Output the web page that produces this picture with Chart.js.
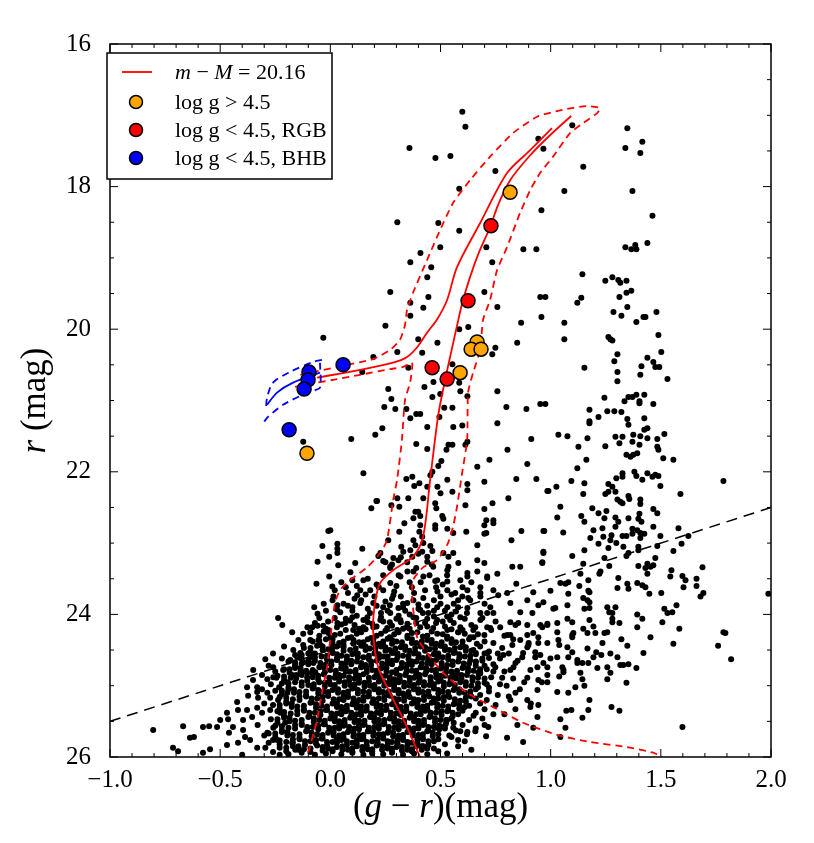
<!DOCTYPE html>
<html lang="en">
<head>
<meta charset="UTF-8">
<title>CMD</title>
<style>
  body { margin: 0; background: #fff; }
  #box { width: 814px; height: 843px; }
</style>
</head>
<body>
<div id="box"><canvas id="cmd" width="814" height="843"></canvas></div>
<script src="https://cdn.jsdelivr.net/npm/chart.js"></script>
<script>
// ---- spectroscopic targets (g-r, r) ----
const orangeGR = [0.816, 0.666, 0.639, 0.684, 0.589, -0.106];
const orangeR  = [18.08, 20.18, 20.28, 20.28, 20.61, 21.74];
const redGR = [0.729, 0.625, 0.462, 0.530];
const redR  = [18.55, 19.60, 20.54, 20.70];
const blueGR = [0.058, -0.097, -0.101, -0.119, -0.187];
const blueR  = [20.50, 20.60, 20.71, 20.84, 21.41];

// ---- isochrone m-M = 20.16 and its envelopes ----
const isoRGB = [[1.093,17.01],[0.997,17.28],[0.907,17.56],[0.816,17.91],[0.761,18.26],[0.725,18.57],[0.675,18.92],[0.634,19.27],[0.600,19.62],[0.575,19.95],[0.550,20.30],[0.521,20.71],[0.490,21.20],[0.453,22.11],[0.421,22.91],[0.375,23.19],[0.285,23.38],[0.226,23.56],[0.203,23.84],[0.194,24.22],[0.217,24.74],[0.271,25.10],[0.348,25.58],[0.407,26.00]];
const isoAGB = [[1.006,17.18],[0.907,17.49],[0.802,17.81],[0.680,18.51],[0.575,19.13],[0.530,19.59],[0.485,19.86],[0.439,20.05],[0.395,20.25],[0.348,20.39],[0.285,20.47],[0.135,20.57],[-0.060,20.68]];
const isoBHB = [[-0.047,20.61],[-0.169,20.75],[-0.242,20.89],[-0.287,21.06]];
const bhbUpper = [[-0.038,20.43],[-0.079,20.46],[-0.183,20.60],[-0.260,20.75],[-0.287,20.96],[-0.292,21.11]];
const bhbLower = [[-0.047,20.47],[-0.047,20.82],[-0.106,20.89],[-0.215,21.06],[-0.283,21.23],[-0.301,21.30]];
const isoUpper = [[-0.136,20.64],[-0.060,20.59],[0.044,20.52],[0.194,20.42],[0.271,20.29],[0.316,20.15],[0.339,19.94],[0.348,19.73],[0.375,19.49],[0.439,19.03],[0.498,18.61],[0.557,18.23],[0.634,17.91],[0.725,17.58],[0.829,17.25],[0.938,17.02],[1.043,16.93],[1.165,16.87],[1.224,16.90],[1.211,16.97],[1.147,17.11],[1.088,17.25],[1.011,17.58],[0.952,17.81],[0.907,18.05],[0.861,18.37],[0.802,18.85],[0.757,19.17],[0.725,19.59],[0.693,19.87],[0.680,20.29],[0.648,20.61],[0.625,20.89],[0.621,21.55],[0.598,22.02],[0.575,22.49],[0.557,22.77],[0.534,23.00],[0.484,23.24],[0.421,23.34],[0.375,23.52],[0.371,23.76],[0.394,24.32],[0.439,24.54],[0.512,24.82],[0.621,25.10],[0.739,25.30],[0.875,25.52],[1.029,25.69],[1.179,25.79],[1.347,25.86],[1.465,25.94],[1.510,26.01]];
const isoLower = [[-0.160,20.81],[-0.060,20.75],[0.012,20.71],[0.135,20.64],[0.271,20.56],[0.330,20.53],[0.371,20.47],[0.362,20.75],[0.339,20.99],[0.325,21.55],[0.303,22.11],[0.285,22.40],[0.257,22.96],[0.226,23.14],[0.167,23.34],[0.089,23.52],[0.044,23.66],[0.021,23.84],[-0.001,24.36],[-0.015,24.74],[-0.038,25.10],[-0.060,25.48],[-0.106,26.00]];
const cutLine = [[-1.0,25.5],[2.0,22.5]];

// ---- photometric field stars ----
const fieldBright = [[0.599,16.95],[0.613,17.16],[0.359,17.46],[0.477,17.60],[0.545,17.57],[0.749,17.78],[0.944,17.33],[0.585,18.03],[0.304,18.50],[0.490,18.51],[0.585,18.62],[0.499,18.85],[0.409,18.93],[0.458,19.13],[0.363,19.06],[0.440,19.27],[0.708,18.85],[0.735,19.06],[0.876,18.88],[0.935,18.88],[0.272,19.48],[0.363,19.63],[0.445,19.55],[0.422,19.70],[0.699,19.48],[0.758,19.69],[0.363,19.81],[0.250,19.95],[0.585,20.00],[0.626,19.97],[0.866,19.91],[0.848,20.19],[0.749,20.26],[0.735,20.35],[0.399,20.14],[0.486,20.19],[0.417,20.33],[0.304,20.32],[0.195,20.39],[-0.032,20.12],[0.145,20.60],[0.354,20.54],[0.554,20.49],[0.468,20.74],[0.427,20.81],[0.499,20.91],[0.585,20.75],[0.590,20.87],[0.622,20.94],[0.463,20.95],[0.263,20.84],[0.277,20.98],[0.245,21.09],[0.295,21.12],[0.345,21.12],[0.363,21.25],[0.390,21.19],[0.408,21.19],[0.517,21.10],[0.554,21.10],[0.495,21.23],[0.558,21.37],[0.599,21.35],[0.440,21.37],[0.236,21.39],[-0.123,21.58],[0.758,21.32],[0.799,21.09],[0.758,20.87],[0.890,21.12]];
const fieldRGB = [[0.095,21.54],[0.204,21.48],[0.150,22.02],[0.390,21.61],[0.440,21.68],[0.527,21.69],[0.536,21.62],[0.554,21.62],[0.622,21.58],[0.613,21.62],[0.504,21.85],[0.490,21.92],[0.463,22.00],[0.454,22.05],[0.345,22.10],[0.372,22.07],[0.404,22.16],[0.381,22.20],[0.440,22.21],[0.486,22.21],[0.500,22.30],[0.531,22.11],[0.554,22.28],[0.667,21.93],[0.722,21.83],[0.699,22.14],[0.622,22.17],[0.622,22.26],[0.804,21.69],[0.912,21.54],[0.894,21.89],[0.844,22.10],[0.935,22.10],[0.985,22.27],[0.808,22.37],[0.736,22.44],[0.699,22.52],[0.740,22.68],[0.699,22.75],[0.613,22.47],[0.617,22.84],[0.699,22.87],[0.867,22.83],[0.822,22.96],[0.967,22.83],[0.967,23.12],[0.962,23.27],[0.862,23.33],[0.699,23.28],[0.536,23.33],[0.558,22.86],[0.531,22.80],[0.513,22.66],[0.508,22.62],[0.476,22.75],[0.476,22.80],[0.422,22.37],[0.481,22.51],[0.399,22.56],[0.386,22.56],[0.377,22.65],[0.408,22.62],[0.336,22.72],[0.408,22.75],[0.404,22.84],[0.313,22.84],[0.377,22.96],[0.417,22.91],[0.422,23.00],[0.386,23.03],[0.363,23.10],[0.454,23.04],[0.463,23.11],[0.440,23.19],[0.399,23.15],[0.372,23.19],[0.349,23.27],[0.322,23.05],[0.286,23.21],[0.272,23.33],[0.263,22.96],[0.304,22.37],[0.313,22.49],[0.354,22.37],[0.277,22.47],[0.209,22.41],[0.186,22.51],[0.145,23.08],[0.032,23.01],[0.032,23.08],[0.036,23.31],[0.113,23.28],[0.218,23.18],[0.250,23.27],[0.000,22.82],[0.536,23.19],[-0.009,22.83],[-0.036,23.04],[-0.058,23.26],[-0.063,23.57],[-0.005,23.19],[-0.005,23.47],[0.212,22.41],[0.476,22.44],[0.708,22.68],[0.708,22.86],[0.667,23.03],[0.032,23.14],[0.091,23.41],[0.227,23.14],[0.272,23.35],[0.331,23.12],[0.309,23.24],[0.417,23.12],[0.440,23.26],[0.467,23.33],[0.485,23.52],[0.422,23.47],[0.377,23.40],[0.318,23.47],[0.590,23.52],[0.622,23.47],[0.667,23.40],[0.712,23.49],[0.740,22.72],[0.581,23.28],[0.558,23.14],[0.513,23.14],[0.531,23.38],[0.667,23.24]];
const fieldSub = [[0.486,23.68],[0.531,23.66],[0.681,23.62],[0.622,23.66],[0.681,23.75],[0.740,23.66],[0.626,23.77],[0.531,23.90],[0.485,23.90],[0.622,23.91],[0.712,23.98],[0.681,24.08],[0.590,24.04],[0.544,24.08],[0.485,24.08],[0.150,23.52],[0.100,23.52],[0.136,23.66],[0.181,23.66],[0.122,23.73],[0.014,23.75],[0.032,23.87],[0.045,23.97],[0.009,23.61],[-0.073,23.90],[-0.058,23.99],[-0.032,24.16],[-0.009,24.26],[0.032,24.12],[0.068,24.12],[0.100,23.90],[0.100,24.04],[0.136,23.84],[0.195,23.84],[0.240,23.66],[0.272,23.56],[0.286,23.73],[0.240,23.90],[0.272,23.98],[0.309,23.91],[0.349,23.84],[0.377,23.80],[0.422,23.77],[0.408,23.94],[0.445,23.98],[0.377,24.04],[0.318,24.08],[0.227,24.08],[0.168,24.04],[0.150,24.18],[0.104,24.22],[0.195,24.18],[0.258,24.19],[0.304,24.22],[0.349,24.18],[0.408,24.18],[0.467,24.19],[0.531,24.22],[0.590,24.18],[0.649,24.22],[0.712,24.18],[0.740,23.98],
  [0.622,23.42],[0.712,23.47],[0.758,23.43],[0.826,23.33],[1.226,23.40],[0.844,23.57],[1.171,23.67],[0.476,23.53],[0.531,23.54],[0.567,23.70],[0.599,23.75],[0.635,23.80],[0.681,23.70],[0.762,23.73],[0.803,23.70],[0.817,23.84],[0.894,23.80],[0.921,23.69],[0.944,23.87],[1.012,23.92],[1.076,23.87],[1.194,24.17],[1.257,24.25],[1.280,23.98],[1.257,23.90],[1.148,23.77],[0.862,23.97],[0.917,23.98],[0.726,23.90],[0.681,23.98],[0.817,24.11],[0.853,24.12],[0.771,24.18],[0.726,24.19],[0.658,24.18],[0.581,24.25],[0.635,24.32],[0.699,24.29],[0.803,24.29],[0.894,24.29],[0.944,24.32],[0.962,24.18],[1.030,24.25],[1.098,24.29],[1.167,24.26],
  [0.05,23.55],[0.08,23.70],[0.12,23.60],[0.17,23.50],[0.20,23.75],[0.24,23.45],[0.26,23.95],[0.30,23.60],[0.33,23.85],[0.35,23.40],[0.38,23.70],[0.41,23.55],[0.44,23.88],[0.46,23.30],[0.50,23.75],[0.53,23.45],[0.56,23.85],[0.60,23.62],[0.64,23.55],[0.70,23.85],[0.10,23.95],[0.06,23.85],[0.14,23.80],[0.18,23.98],[0.22,23.62],[0.28,23.78],[0.31,23.45],[0.34,23.95],[0.42,23.98],[0.48,23.62],[0.52,23.95],[0.39,23.35],[0.36,23.55],[0.45,23.45],[0.28,23.30],[0.24,23.25],[0.32,23.20],[-0.02,23.95],[0.01,23.80],[-0.05,24.05]];
const fieldPlume = [[1.098,17.14],[1.348,17.18],[0.967,17.47],[1.339,17.46],[1.416,17.37],[1.407,17.53],[1.148,17.72],[1.062,18.06],[1.371,18.06],[0.958,18.33],[1.462,18.41],[1.339,18.85],[1.366,18.88],[1.384,18.82],[1.389,18.88],[1.439,18.79],[1.144,19.23],[1.248,19.32],[1.280,19.27],[1.307,19.31],[1.316,19.35],[1.344,19.32],[0.953,19.55],[0.976,19.55],[1.139,19.56],[1.121,19.63],[1.312,19.55],[1.344,19.49],[1.366,19.46],[1.348,19.69],[1.285,19.76],[1.321,19.81],[1.389,19.90],[1.421,19.83],[1.430,19.83],[1.480,19.76],[0.958,19.83],[1.062,19.91],[1.062,20.14],[1.262,20.11],[1.271,20.14],[1.280,20.16],[1.489,20.08],[1.502,20.32],[1.303,20.35],[1.289,20.45],[1.439,20.40],[1.466,20.46],[1.475,20.53],[1.493,20.53],[1.412,20.52],[1.407,20.64],[1.153,20.54],[1.303,20.60],[1.303,20.73],[1.530,20.70],[0.953,21.05],[0.976,21.05],[1.244,20.96],[1.335,21.01],[1.353,20.95],[1.371,20.95],[1.389,20.92],[1.403,21.01],[1.403,21.04],[1.425,20.92],[1.466,21.05],[1.176,21.13],[1.257,21.15],[1.289,21.15],[1.321,21.16],[1.217,21.23],[1.176,21.29],[1.176,21.32],[1.348,21.26],[1.353,21.34],[1.425,21.25],[1.425,21.41],[1.439,21.39],[1.035,21.48],[1.076,21.50],[1.167,21.53],[1.294,21.51],[1.326,21.51],[1.375,21.48],[1.407,21.50],[1.439,21.53],[1.484,21.54],[1.516,21.47],
  [1.248,21.64],[1.312,21.60],[1.371,21.58],[1.403,21.62],[1.484,21.65],[1.489,21.69],[1.126,21.65],[1.344,21.76],[1.362,21.79],[1.375,21.76],[1.393,21.74],[1.511,21.81],[1.557,21.83],[1.162,21.83],[1.121,21.95],[1.094,22.13],[1.153,22.16],[0.990,22.27],[1.026,22.21],[1.148,22.31],[1.298,22.09],[1.326,22.07],[1.326,22.02],[1.380,22.00],[1.389,22.06],[1.439,22.02],[1.462,22.07],[1.475,22.04],[1.489,22.06],[1.416,22.11],[1.498,22.20],[1.262,22.17],[1.280,22.21],[1.262,22.28],[1.248,22.31],[1.294,22.28],[1.353,22.34],[1.357,22.38],[1.303,22.39],[1.316,22.42],[1.326,22.44],[1.407,22.39],[1.407,22.45],[1.589,22.31],[1.784,22.13],[1.044,22.49],[1.189,22.51],[1.217,22.58],[1.253,22.55],[1.139,22.62],[1.030,22.64],[1.153,22.70],[1.244,22.65],[1.294,22.64],[1.307,22.70],[1.353,22.65],[1.403,22.59],[1.398,22.66],[1.412,22.70],[1.466,22.52],[1.484,22.58],[0.971,22.83],[1.057,22.85],[1.194,22.82],[1.235,22.79],[1.294,22.77],[1.371,22.80],[1.393,22.82],[1.180,22.93],[1.239,22.91],[1.276,22.89],[1.326,22.90],[1.344,22.90],[1.371,22.87],[1.407,22.86],[1.425,22.87],[1.466,22.77],[1.498,22.90],[1.271,22.96],[1.298,23.00],[1.407,22.93],[1.217,23.01],[1.262,23.07],[1.330,23.05],[1.353,23.14],[1.344,23.18],[1.398,23.05],[1.398,23.10],[1.484,23.04],[1.580,22.79],[1.625,22.90],[1.594,23.01],[1.557,23.11],[1.153,23.10],[1.098,23.18],[0.967,23.14],[0.962,23.28],[1.148,23.29],[1.244,23.21],[1.266,23.32],[1.398,23.32],[1.430,23.35],[1.439,23.29],[1.466,23.31],[1.475,23.21],[1.453,23.33],[1.135,23.43],[1.221,23.43],[1.307,23.49],[1.439,23.43],[1.548,23.38],[1.543,23.47],[1.689,23.34],[1.598,23.46],[1.612,23.52],[1.662,23.50],[1.662,23.60],[1.603,23.62],[1.693,23.70],[1.680,23.75],[1.988,23.71],[1.044,23.56],[1.067,23.57],[1.080,23.55],[1.130,23.60],[1.171,23.52],[1.176,23.69],[1.080,23.71],[0.999,23.67],[1.303,23.63],[1.348,23.57],[1.353,23.64],[1.393,23.56],[1.416,23.59],[1.430,23.62],[1.448,23.71],[1.502,23.70],[1.167,23.80],[1.176,23.83],[0.967,23.83],[1.021,23.91],[1.153,23.92],[1.176,23.91],[1.294,23.90],[1.266,23.97],[1.393,24.00],[1.516,23.92],[1.530,23.98],[1.552,23.97],[1.571,23.87],[1.507,24.11],[1.076,24.06],[1.098,24.11],[1.176,24.08],[0.985,24.13],[1.280,24.06],[1.280,24.11],[1.312,24.12],[1.416,24.06],[1.393,24.18]];
const fieldLeft = [[-0.237,24.05],[-0.218,24.15],[-0.173,24.25],[-0.123,24.27],[-0.104,24.18],[-0.082,24.18],[-0.058,24.16],[-0.091,24.25],[-0.054,24.36],[-0.045,24.43],[-0.009,24.22],[-0.295,24.63],[-0.350,24.78],[-0.286,24.91],[-0.259,24.88],[-0.245,24.89],[-0.136,24.54],[-0.095,24.54],[-0.182,24.64],[-0.159,24.71],[-0.091,24.60],[-0.123,24.67],[-0.077,24.68],[-0.127,24.81],[-0.104,24.82],[-0.068,24.81],[-0.232,25.02],[-0.195,25.10],[-0.273,25.17],[-0.237,25.20],[-0.273,25.34],[-0.227,25.38],[-0.310,25.38],[-0.355,25.44],[-0.332,25.31],[-0.328,25.17],[-0.373,25.14],[-0.378,25.02],[-0.332,25.09],[-0.423,25.23],[-0.419,25.34],[-0.469,25.38],[-0.464,25.47],[-0.514,25.58],[-0.550,25.57],[-0.578,25.58],[-0.668,25.57],[-0.804,25.62],[-0.637,25.73],[-0.619,25.72],[-0.714,25.87],[-0.691,25.92],[-0.578,25.94],[-0.546,25.89],[-0.469,25.83],[-0.460,25.66],[-0.419,25.80],[-0.396,25.62],[-0.387,25.72],[-0.364,25.76],[-0.332,25.87],[-0.295,25.87],[-0.286,25.66],[-0.259,25.59],[-0.241,25.76],[-0.205,25.52],[-0.195,25.66],[-0.173,25.80],[-0.159,25.90],[-0.400,25.97],[-0.442,25.58],[-0.500,25.48],[-0.396,25.48],[-0.378,25.34],[-0.332,25.02],[-0.351,24.92],[-0.259,24.74],[-0.286,25.10],[-0.214,24.78],[-0.195,24.95],[-0.173,24.85],[-0.150,24.60],[-0.168,24.50],[-0.123,24.43],[-0.091,24.36],[-0.145,24.36],
  [-0.21,24.45],[-0.26,24.55],[-0.22,24.62],[-0.28,24.72],[-0.25,24.80],[-0.31,24.85],[-0.27,24.98],[-0.31,25.05],[-0.30,25.25],[-0.33,25.55],[-0.30,25.70],[-0.28,25.80],[-0.26,25.93],[-0.23,25.97]];
const fieldRight = [[0.826,24.43],[0.899,24.43],[0.985,24.40],[1.076,24.46],[1.167,24.48],[1.235,24.40],[1.303,24.60],[1.194,24.60],[1.121,24.64],[1.030,24.60],[0.953,24.57],[0.871,24.60],[0.785,24.57],[0.712,24.54],[0.649,24.50],[0.749,24.74],[0.831,24.74],[0.908,24.78],[0.985,24.74],[1.058,24.78],[1.135,24.82],[1.212,24.75],[1.271,24.82],[0.672,24.82],[0.604,24.74],[0.554,24.85],
  [1.584,24.20],[1.453,24.32],[1.557,24.41],[1.421,24.54],[1.784,24.25],[1.793,24.26],[1.760,24.44],[1.819,24.63],[1.598,25.58],[1.389,24.75],[1.353,24.70],[1.330,24.71],[1.316,24.71],[1.348,24.44],[1.321,24.35],[1.257,24.91],[1.344,24.96],[1.276,25.30],[1.312,25.35],[1.176,25.20],[1.171,25.34],[1.144,25.45],[1.044,25.47],[1.067,25.59],[1.044,25.72],[0.875,25.79],[0.802,25.73],[0.707,25.71],[0.422,25.85],[1.230,24.57],[1.207,24.53],[1.271,24.55],[1.257,24.74],[1.171,24.68],[1.144,24.68],[1.121,24.68],[1.080,24.60],[1.098,24.53],[1.103,24.26],[1.098,24.32],[1.148,24.20],[1.203,24.26],[1.244,24.26],[1.030,24.12],[0.985,24.15],[1.035,24.36],[1.039,24.43],[1.053,24.74],[1.058,24.81],[1.039,24.87],[1.144,24.91],[1.153,25.00],[1.112,25.02],[1.080,25.10],[1.071,25.35],[1.094,25.34],[1.030,25.09],[0.985,24.95],[0.985,24.85],[0.944,24.92],[0.940,24.74],[0.967,24.68],[0.999,24.62],[0.930,24.53],[0.894,24.46],[0.875,24.54],[0.944,24.40],[0.921,24.26],[0.953,24.15],[0.862,24.36],[0.817,24.29],[0.840,24.15],[0.894,24.15],[0.840,24.68],[0.817,24.78],[0.780,24.89],[0.894,24.89],[0.940,25.06],[0.894,25.20],[0.840,25.10],[0.817,25.20],[0.908,25.30],[0.940,25.44],[0.944,25.27],[0.849,25.55],[0.921,25.59],[0.717,25.58],[0.658,25.64],[0.622,25.65],[0.558,25.59],[0.476,25.59],[0.530,25.48],
  [0.74,24.40],[0.78,24.47],[0.72,24.52],[0.77,24.62],[0.74,24.70],[0.79,24.80],[0.73,24.88],[0.77,24.98],[0.72,25.03],[0.76,25.13],[0.71,25.20],[0.75,25.27],[0.70,25.33],[0.74,25.40],[0.69,25.46],[0.66,25.38],[0.63,25.48],[0.60,25.55],[0.57,25.63],[0.54,25.70],[0.52,25.82],[0.49,25.92],[0.58,25.76],[0.62,25.68],[0.66,25.60],[0.70,25.55],[0.63,25.28],[0.68,25.13],[0.71,24.98],[0.68,24.83],[0.70,24.72],[0.66,24.66],[0.81,24.55],[0.85,24.65],[0.83,24.90],[0.86,25.05],[0.81,25.15],[0.84,25.33],[0.79,25.40],[0.88,24.95],[0.80,25.00],[0.83,24.35],[0.79,24.30],[0.90,24.40],[0.93,24.60],[0.96,24.95],[0.91,25.25],[0.73,24.22],[0.67,24.28],[0.64,24.15],[0.69,24.05],[0.75,24.10],[0.62,23.98],[0.58,23.90],[0.55,24.00],[0.51,24.10],[0.47,24.03],[0.43,24.12],[0.39,24.05],[0.35,24.13],[0.31,24.02],[0.27,24.11],[0.23,24.04],[0.19,24.13],[0.15,24.08],[0.11,24.15],[0.07,24.06],[0.03,24.18],[-0.01,24.10],
  [0.52,25.60],[0.56,25.52],[0.59,25.64],[0.55,25.72],[0.58,25.85],[0.53,25.95],[0.49,25.75],[0.47,25.88],[0.61,25.78],[0.64,25.90],[0.44,25.96],[0.60,25.35],[0.65,25.42],[0.68,25.25],[0.66,25.18],[0.72,25.08],[0.70,24.90],[0.74,24.80],[0.76,24.55],[0.70,24.55]];
// upper edge of the dense blob, r ~ 23.6 - 24.35
const fieldTurnoff = [[0.02,23.66],[0.07,23.62],[0.11,23.78],[0.16,23.72],[0.21,23.58],[0.25,23.82],[0.29,23.68],[0.32,23.75],[0.37,23.62],[0.40,23.86],[0.43,23.66],[0.47,23.80],[0.51,23.58],[0.55,23.72],[0.58,23.80],
  [-0.03,23.85],[0.03,23.93],[0.08,23.88],[0.12,24.02],[0.17,23.92],[0.21,23.88],[0.23,23.98],[0.27,23.87],[0.30,24.06],[0.33,23.90],[0.36,24.00],[0.40,23.92],[0.44,24.06],[0.47,23.95],[0.50,23.85],[0.53,24.03],[0.57,23.96],[0.61,24.06],
  [-0.07,24.12],[-0.02,24.20],[0.02,24.05],[0.05,24.14],[0.09,24.09],[0.13,24.20],[0.17,24.11],[0.21,24.17],[0.24,24.10],[0.28,24.16],[0.32,24.11],[0.36,24.20],[0.39,24.12],[0.44,24.17],[0.48,24.12],[0.52,24.17],[0.56,24.12],[0.60,24.22],
  [-0.05,24.30],[0.00,24.33],[0.045,24.27],[0.095,24.32],[0.14,24.25],[0.185,24.33],[0.23,24.27],[0.27,24.32],[0.31,24.25],[0.35,24.30],[0.395,24.25],[0.44,24.30],[0.485,24.27],[0.53,24.31],[0.58,24.25],[0.65,24.32]];
const fieldCore = [
  [-0.03,24.24],[0.02,24.29],[0.07,24.22],[0.12,24.27],[0.16,24.21],[0.21,24.30],[0.25,24.23],[0.29,24.28],[0.33,24.20],[0.37,24.26],[0.42,24.31],[0.46,24.24],[0.51,24.28],[0.55,24.21],[0.61,24.27],
  [-0.08,24.38],[-0.02,24.35],[0.04,24.40],[0.08,24.33],[0.13,24.39],[0.17,24.35],[0.22,24.41],[0.26,24.34],[0.30,24.38],[0.35,24.33],[0.39,24.40],[0.44,24.36],[0.48,24.41],[0.53,24.34],[0.57,24.39],[0.63,24.35],[0.70,24.38],
  [-0.05,24.42],[0.01,24.40],[0.06,24.43],[0.105,24.41],[0.15,24.44],[0.195,24.40],[0.24,24.43],[0.28,24.41],[0.325,24.44],[0.37,24.40],[0.415,24.43],[0.46,24.41],[0.505,24.44],[0.55,24.40],[0.60,24.43],[0.665,24.41],
  [-0.12,24.47],[-0.06,24.44],[-0.01,24.49],[0.03,24.45],[0.09,24.50],[0.14,24.44],[0.18,24.48],[0.23,24.45],[0.27,24.50],[0.32,24.46],[0.36,24.51],[0.41,24.45],[0.45,24.49],[0.50,24.44],[0.54,24.50],[0.59,24.46],[0.64,24.51],[0.68,24.45],
  [-0.09,24.52],[-0.035,24.50],[0.01,24.53],[0.06,24.51],[0.115,24.54],[0.16,24.50],[0.205,24.53],[0.25,24.51],[0.295,24.54],[0.34,24.50],[0.385,24.53],[0.43,24.51],[0.475,24.54],[0.52,24.50],[0.565,24.53],[0.615,24.51],[0.66,24.54],
  [-0.16,24.57],[-0.10,24.55],[-0.04,24.59],[0.01,24.54],[0.05,24.58],[0.10,24.56],[0.15,24.60],[0.20,24.55],[0.24,24.59],[0.28,24.54],[0.33,24.58],[0.38,24.55],[0.42,24.61],[0.47,24.56],[0.51,24.60],[0.56,24.54],[0.61,24.59],[0.66,24.56],[0.72,24.61],
  [-0.13,24.62],[-0.07,24.60],[-0.015,24.63],[0.03,24.61],[0.075,24.64],[0.125,24.60],[0.175,24.63],[0.22,24.61],[0.26,24.64],[0.305,24.60],[0.355,24.63],[0.40,24.61],[0.445,24.64],[0.49,24.60],[0.535,24.63],[0.585,24.61],[0.635,24.64],[0.69,24.62],
  [-0.19,24.66],[-0.13,24.69],[-0.07,24.65],[-0.02,24.70],[0.03,24.64],[0.07,24.68],[0.12,24.66],[0.16,24.71],[0.21,24.65],[0.26,24.69],[0.30,24.64],[0.35,24.70],[0.39,24.66],[0.44,24.68],[0.48,24.64],[0.53,24.71],[0.58,24.66],[0.63,24.69],[0.69,24.65],
  [-0.16,24.72],[-0.10,24.70],[-0.045,24.73],[0.005,24.71],[0.05,24.74],[0.095,24.70],[0.14,24.73],[0.185,24.71],[0.235,24.74],[0.28,24.70],[0.325,24.73],[0.37,24.71],[0.415,24.74],[0.46,24.70],[0.505,24.73],[0.555,24.71],[0.605,24.74],[0.66,24.72],
  [-0.21,24.77],[-0.16,24.75],[-0.11,24.79],[-0.05,24.74],[0.00,24.78],[0.05,24.76],[0.09,24.80],[0.14,24.74],[0.19,24.78],[0.23,24.76],[0.28,24.81],[0.32,24.75],[0.37,24.79],[0.41,24.74],[0.46,24.78],[0.50,24.76],[0.55,24.80],[0.60,24.75],[0.65,24.79],[0.71,24.77],
  [-0.185,24.82],[-0.135,24.80],[-0.08,24.83],[-0.025,24.81],[0.025,24.84],[0.07,24.80],[0.115,24.83],[0.165,24.81],[0.21,24.84],[0.255,24.80],[0.30,24.83],[0.345,24.81],[0.39,24.84],[0.435,24.80],[0.48,24.83],[0.525,24.81],[0.575,24.84],[0.625,24.80],[0.68,24.82],
  [-0.24,24.86],[-0.18,24.89],[-0.13,24.85],[-0.08,24.88],[-0.03,24.84],[0.02,24.89],[0.06,24.86],[0.11,24.90],[0.15,24.84],[0.20,24.88],[0.25,24.86],[0.29,24.91],[0.34,24.85],[0.38,24.89],[0.43,24.84],[0.48,24.88],[0.52,24.86],[0.57,24.90],[0.62,24.85],[0.67,24.89],
  [-0.21,24.92],[-0.155,24.90],[-0.105,24.93],[-0.055,24.91],[-0.005,24.94],[0.04,24.90],[0.085,24.93],[0.13,24.91],[0.175,24.94],[0.225,24.90],[0.27,24.93],[0.315,24.91],[0.36,24.94],[0.405,24.90],[0.455,24.93],[0.50,24.91],[0.545,24.94],[0.595,24.90],[0.645,24.93],
  [-0.22,24.97],[-0.16,24.95],[-0.10,24.99],[-0.05,24.95],[0.00,24.98],[0.04,24.94],[0.09,24.99],[0.13,24.96],[0.18,25.00],[0.22,24.94],[0.27,24.98],[0.31,24.95],[0.36,25.00],[0.40,24.96],[0.45,24.99],[0.49,24.94],[0.54,24.98],[0.59,24.95],[0.64,25.00],[0.70,24.96],
  [-0.19,25.02],[-0.13,25.00],[-0.075,25.03],[-0.025,25.01],[0.02,25.04],[0.065,25.00],[0.11,25.03],[0.155,25.01],[0.20,25.04],[0.245,25.00],[0.29,25.03],[0.335,25.01],[0.38,25.04],[0.425,25.00],[0.47,25.03],[0.515,25.01],[0.565,25.04],[0.615,25.00],[0.67,25.02],
  [-0.25,25.07],[-0.19,25.05],[-0.14,25.09],[-0.08,25.04],[-0.03,25.08],[0.01,25.06],[0.06,25.10],[0.10,25.04],[0.15,25.08],[0.20,25.05],[0.24,25.09],[0.29,25.06],[0.33,25.11],[0.38,25.05],[0.42,25.09],[0.47,25.04],[0.51,25.08],[0.56,25.06],[0.61,25.10],[0.66,25.05],
  [-0.22,25.12],[-0.165,25.10],[-0.11,25.13],[-0.055,25.11],[-0.01,25.14],[0.035,25.10],[0.08,25.13],[0.125,25.11],[0.175,25.14],[0.22,25.10],[0.265,25.13],[0.31,25.11],[0.355,25.14],[0.40,25.10],[0.445,25.13],[0.49,25.11],[0.535,25.14],[0.585,25.10],[0.635,25.13],
  [-0.23,25.16],[-0.17,25.19],[-0.11,25.15],[-0.06,25.18],[-0.01,25.14],[0.04,25.19],[0.08,25.16],[0.13,25.20],[0.17,25.15],[0.22,25.18],[0.27,25.14],[0.31,25.19],[0.36,25.16],[0.40,25.20],[0.45,25.15],[0.49,25.18],[0.54,25.16],[0.59,25.21],[0.64,25.15],
  [-0.20,25.22],[-0.14,25.20],[-0.085,25.23],[-0.035,25.21],[0.015,25.24],[0.06,25.20],[0.105,25.23],[0.15,25.21],[0.195,25.24],[0.245,25.20],[0.29,25.23],[0.335,25.21],[0.38,25.24],[0.425,25.20],[0.47,25.23],[0.515,25.21],[0.565,25.24],[0.615,25.22],
  [-0.26,25.27],[-0.20,25.25],[-0.15,25.29],[-0.09,25.24],[-0.04,25.28],[0.01,25.25],[0.05,25.30],[0.10,25.26],[0.14,25.29],[0.19,25.24],[0.23,25.28],[0.28,25.26],[0.32,25.30],[0.37,25.25],[0.42,25.29],[0.46,25.24],[0.51,25.28],[0.56,25.26],[0.61,25.30],
  [-0.23,25.32],[-0.175,25.30],[-0.12,25.33],[-0.065,25.31],[-0.015,25.34],[0.03,25.30],[0.075,25.33],[0.12,25.31],[0.165,25.34],[0.21,25.30],[0.255,25.33],[0.30,25.31],[0.345,25.34],[0.395,25.30],[0.44,25.33],[0.485,25.31],[0.535,25.34],[0.585,25.32],
  [-0.24,25.36],[-0.18,25.39],[-0.12,25.35],[-0.07,25.38],[-0.02,25.34],[0.03,25.39],[0.07,25.36],[0.12,25.40],[0.16,25.35],[0.21,25.38],[0.25,25.34],[0.30,25.39],[0.34,25.36],[0.39,25.40],[0.43,25.35],[0.48,25.38],[0.53,25.36],[0.58,25.40],
  [-0.21,25.42],[-0.15,25.40],[-0.095,25.43],[-0.045,25.41],[0.005,25.44],[0.05,25.40],[0.095,25.43],[0.14,25.41],[0.185,25.44],[0.23,25.40],[0.275,25.43],[0.32,25.41],[0.365,25.44],[0.41,25.40],[0.455,25.43],[0.505,25.41],[0.555,25.43],
  [-0.27,25.47],[-0.21,25.45],[-0.16,25.49],[-0.10,25.44],[-0.05,25.48],[0.00,25.46],[0.04,25.50],[0.09,25.45],[0.13,25.49],[0.18,25.44],[0.22,25.48],[0.27,25.46],[0.31,25.50],[0.36,25.45],[0.40,25.49],[0.45,25.44],[0.50,25.48],[0.55,25.46],
  [-0.24,25.52],[-0.185,25.50],[-0.13,25.53],[-0.075,25.51],[-0.025,25.54],[0.02,25.50],[0.065,25.53],[0.11,25.51],[0.155,25.54],[0.20,25.50],[0.245,25.53],[0.29,25.51],[0.335,25.54],[0.38,25.50],[0.425,25.53],[0.475,25.51],[0.525,25.53],
  [-0.25,25.56],[-0.19,25.59],[-0.13,25.55],[-0.08,25.58],[-0.03,25.54],[0.02,25.59],[0.06,25.56],[0.11,25.60],[0.15,25.55],[0.20,25.58],[0.24,25.54],[0.29,25.59],[0.33,25.56],[0.38,25.60],[0.42,25.55],[0.47,25.58],[0.52,25.56],
  [-0.22,25.62],[-0.16,25.60],[-0.105,25.63],[-0.055,25.61],[-0.005,25.64],[0.04,25.60],[0.085,25.63],[0.13,25.61],[0.175,25.64],[0.22,25.60],[0.265,25.63],[0.31,25.61],[0.355,25.64],[0.40,25.60],[0.445,25.63],[0.495,25.61],
  [-0.28,25.67],[-0.22,25.65],[-0.17,25.69],[-0.11,25.64],[-0.06,25.68],[-0.01,25.66],[0.04,25.70],[0.08,25.65],[0.13,25.69],[0.17,25.64],[0.22,25.68],[0.26,25.66],[0.31,25.70],[0.35,25.65],[0.40,25.69],[0.44,25.64],[0.49,25.68],
  [-0.25,25.72],[-0.195,25.70],[-0.14,25.73],[-0.085,25.71],[-0.035,25.74],[0.015,25.70],[0.06,25.73],[0.105,25.71],[0.15,25.74],[0.195,25.70],[0.24,25.73],[0.285,25.71],[0.33,25.74],[0.375,25.70],[0.42,25.73],[0.465,25.71],
  [-0.26,25.76],[-0.20,25.79],[-0.14,25.75],[-0.09,25.78],[-0.04,25.74],[0.01,25.79],[0.05,25.76],[0.10,25.80],[0.14,25.75],[0.19,25.78],[0.24,25.74],[0.28,25.79],[0.33,25.76],[0.37,25.80],[0.42,25.75],[0.47,25.78],
  [-0.23,25.82],[-0.17,25.80],[-0.115,25.83],[-0.065,25.81],[-0.015,25.84],[0.03,25.80],[0.075,25.83],[0.12,25.81],[0.165,25.84],[0.215,25.80],[0.26,25.83],[0.305,25.81],[0.35,25.84],[0.395,25.80],[0.445,25.83],
  [-0.23,25.87],[-0.17,25.85],[-0.12,25.89],[-0.06,25.84],[-0.01,25.88],[0.03,25.86],[0.08,25.90],[0.12,25.85],[0.17,25.89],[0.21,25.84],[0.26,25.88],[0.30,25.86],[0.35,25.90],[0.39,25.85],[0.44,25.88],
  [-0.20,25.92],[-0.145,25.90],[-0.09,25.93],[-0.035,25.91],[0.01,25.92],[0.055,25.90],[0.10,25.93],[0.145,25.91],[0.19,25.92],[0.235,25.90],[0.28,25.93],[0.325,25.91],[0.37,25.92],[0.415,25.90],
  [-0.19,25.96],[-0.13,25.94],[-0.07,25.97],[-0.02,25.95],[0.05,25.96],[0.10,25.94],[0.15,25.97],[0.19,25.95],[0.24,25.96],[0.28,25.94],[0.33,25.97],[0.38,25.95]
];
// extra stars packed between the rows above, where the blob is solid black
const fieldCoreFill = [
  [-0.05,24.37],[0.01,24.35],[0.06,24.38],[0.105,24.36],[0.15,24.39],[0.195,24.35],[0.24,24.38],[0.28,24.36],[0.325,24.39],[0.37,24.35],[0.415,24.38],[0.46,24.36],[0.505,24.39],[0.55,24.35],[0.60,24.38],
  [-0.09,24.47],[-0.035,24.45],[0.01,24.46],[0.06,24.46],[0.115,24.48],[0.16,24.45],[0.205,24.47],[0.25,24.46],[0.295,24.48],[0.34,24.45],[0.385,24.47],[0.43,24.46],[0.475,24.48],[0.52,24.45],[0.565,24.47],[0.615,24.46],
  [-0.13,24.57],[-0.07,24.55],[-0.015,24.58],[0.03,24.56],[0.075,24.59],[0.125,24.55],[0.175,24.58],[0.22,24.56],[0.26,24.59],[0.305,24.55],[0.355,24.58],[0.40,24.56],[0.445,24.59],[0.49,24.55],[0.535,24.58],[0.585,24.56],[0.635,24.58],
  [-0.16,24.67],[-0.10,24.65],[-0.045,24.68],[0.005,24.66],[0.05,24.69],[0.095,24.65],[0.14,24.68],[0.185,24.66],[0.235,24.69],[0.28,24.65],[0.325,24.68],[0.37,24.66],[0.415,24.69],[0.46,24.65],[0.505,24.68],[0.555,24.66],[0.605,24.69],[0.66,24.67],
  [-0.185,24.77],[-0.135,24.75],[-0.08,24.78],[-0.025,24.76],[0.025,24.79],[0.07,24.75],[0.115,24.78],[0.165,24.76],[0.21,24.79],[0.255,24.75],[0.30,24.78],[0.345,24.76],[0.39,24.79],[0.435,24.75],[0.48,24.78],[0.525,24.76],[0.575,24.79],[0.625,24.75],[0.68,24.77],
  [-0.21,24.87],[-0.155,24.85],[-0.105,24.88],[-0.055,24.86],[-0.005,24.89],[0.04,24.85],[0.085,24.88],[0.13,24.86],[0.175,24.89],[0.225,24.85],[0.27,24.88],[0.315,24.86],[0.36,24.89],[0.405,24.85],[0.455,24.88],[0.50,24.86],[0.545,24.89],[0.595,24.85],[0.645,24.88],
  [-0.19,24.97],[-0.13,24.95],[-0.075,24.98],[-0.025,24.96],[0.02,24.99],[0.065,24.95],[0.11,24.98],[0.155,24.96],[0.20,24.99],[0.245,24.95],[0.29,24.98],[0.335,24.96],[0.38,24.99],[0.425,24.95],[0.47,24.98],[0.515,24.96],[0.565,24.99],[0.615,24.95],[0.67,24.97],
  [-0.22,25.07],[-0.165,25.05],[-0.11,25.08],[-0.055,25.06],[-0.01,25.09],[0.035,25.05],[0.08,25.08],[0.125,25.06],[0.175,25.09],[0.22,25.05],[0.265,25.08],[0.31,25.06],[0.355,25.09],[0.40,25.05],[0.445,25.08],[0.49,25.06],[0.535,25.09],[0.585,25.05],[0.635,25.08],
  [-0.20,25.17],[-0.14,25.15],[-0.085,25.18],[-0.035,25.16],[0.015,25.19],[0.06,25.15],[0.105,25.18],[0.15,25.16],[0.195,25.19],[0.245,25.15],[0.29,25.18],[0.335,25.16],[0.38,25.19],[0.425,25.15],[0.47,25.18],[0.515,25.16],[0.565,25.19],[0.615,25.17],
  [-0.23,25.27],[-0.175,25.25],[-0.12,25.28],[-0.065,25.26],[-0.015,25.29],[0.03,25.25],[0.075,25.28],[0.12,25.26],[0.165,25.29],[0.21,25.25],[0.255,25.28],[0.30,25.26],[0.345,25.29],[0.395,25.25],[0.44,25.28],[0.485,25.26],[0.535,25.29],[0.585,25.27],
  [-0.21,25.37],[-0.15,25.35],[-0.095,25.38],[-0.045,25.36],[0.005,25.39],[0.05,25.35],[0.095,25.38],[0.14,25.36],[0.185,25.39],[0.23,25.35],[0.275,25.38],[0.32,25.36],[0.365,25.39],[0.41,25.35],[0.455,25.38],[0.505,25.36],[0.555,25.38],
  [-0.24,25.47],[-0.185,25.45],[-0.13,25.48],[-0.075,25.46],[-0.025,25.49],[0.02,25.45],[0.065,25.48],[0.11,25.46],[0.155,25.49],[0.20,25.45],[0.245,25.48],[0.29,25.46],[0.335,25.49],[0.38,25.45],[0.425,25.48],[0.475,25.46],[0.525,25.48],
  [-0.22,25.57],[-0.16,25.55],[-0.105,25.58],[-0.055,25.56],[-0.005,25.59],[0.04,25.55],[0.085,25.58],[0.13,25.56],[0.175,25.59],[0.22,25.55],[0.265,25.58],[0.31,25.56],[0.355,25.59],[0.40,25.55],[0.445,25.58],[0.495,25.56],
  [-0.25,25.67],[-0.195,25.65],[-0.14,25.68],[-0.085,25.66],[-0.035,25.69],[0.015,25.65],[0.06,25.68],[0.105,25.66],[0.15,25.69],[0.195,25.65],[0.24,25.68],[0.285,25.66],[0.33,25.69],[0.375,25.65],[0.42,25.68],[0.465,25.66],
  [-0.23,25.77],[-0.17,25.75],[-0.115,25.78],[-0.065,25.76],[-0.015,25.79],[0.03,25.75],[0.075,25.78],[0.12,25.76],[0.165,25.79],[0.215,25.75],[0.26,25.78],[0.305,25.76],[0.35,25.79],[0.395,25.75],[0.445,25.78],
  [-0.20,25.87],[-0.145,25.85],[-0.09,25.88],[-0.035,25.86],[0.01,25.89],[0.055,25.85],[0.10,25.88],[0.145,25.86],[0.19,25.89],[0.235,25.85],[0.28,25.88],[0.325,25.86],[0.37,25.89],[0.415,25.85]
];

const xMajor = [-1.0, -0.5, 0.0, 0.5, 1.0, 1.5, 2.0];
const yMajor = [16, 18, 20, 22, 24, 26];

const SERIF = '"Liberation Serif", "DejaVu Serif", serif';
const toXY = arr => arr.map(p => ({ x: p[0], y: p[1] }));
const pairXY = (gx, ry) => gx.map((v, i) => ({ x: v, y: ry[i] }));

const allField = [].concat(fieldBright, fieldRGB, fieldSub, fieldPlume, fieldLeft, fieldRight, fieldTurnoff, fieldCore, fieldCoreFill);

function lineSet(pts, color, dash, width, order, tension) {
  return { data: toXY(pts), showLine: true, borderColor: color, borderWidth: width, borderDash: dash,
           pointRadius: 0, fill: false, tension: tension || 0, order: order };
}
function markerSet(gx, ry, color) {
  return { data: pairXY(gx, ry), backgroundColor: color, borderColor: '#000', borderWidth: 1.5,
           pointRadius: 7, pointHoverRadius: 7, order: 0 };
}

// draws a string made of upright / italic pieces
function richText(ctx, parts, x, y, size, align) {
  let w = 0;
  parts.forEach(p => { ctx.font = (p[1] ? 'italic ' : '') + size + 'px ' + SERIF; w += ctx.measureText(p[0]).width; });
  let cx = align === 'center' ? x - w / 2 : x;
  parts.forEach(p => {
    ctx.font = (p[1] ? 'italic ' : '') + size + 'px ' + SERIF;
    ctx.fillText(p[0], cx, y);
    cx += ctx.measureText(p[0]).width;
  });
}

const decor = {
  id: 'decor',
  afterDraw(chart) {
    const ctx = chart.ctx, a = chart.chartArea, sx = chart.scales.x, sy = chart.scales.y;
    ctx.save();
    ctx.strokeStyle = '#000';
    ctx.lineWidth = 1;
    // ticks pointing inward on all four sides
    ctx.beginPath();
    for (let i = -10; i <= 20; i++) {
      const px = sx.getPixelForValue(i / 10);
      const len = (i % 5 === 0) ? 8 : 4;
      ctx.moveTo(px, a.bottom); ctx.lineTo(px, a.bottom - len);
      ctx.moveTo(px, a.top); ctx.lineTo(px, a.top + len);
    }
    for (let j = 32; j <= 52; j++) {
      const py = sy.getPixelForValue(j / 2);
      const len = (j % 4 === 0) ? 8 : 4;
      ctx.moveTo(a.left, py); ctx.lineTo(a.left + len, py);
      ctx.moveTo(a.right, py); ctx.lineTo(a.right - len, py);
    }
    ctx.stroke();
    ctx.lineWidth = 1.5;
    ctx.strokeRect(a.left, a.top, a.right - a.left, a.bottom - a.top);

    // legend
    const lx = 107, ly = 53, lw = 225, lh = 126;
    ctx.fillStyle = '#fff';
    ctx.fillRect(lx, ly, lw, lh);
    ctx.strokeRect(lx, ly, lw, lh);
    ctx.fillStyle = '#000';
    ctx.textBaseline = 'middle';
    ctx.strokeStyle = '#f00';
    ctx.lineWidth = 1.8;
    ctx.beginPath(); ctx.moveTo(122, 72); ctx.lineTo(152, 72); ctx.stroke();
    richText(ctx, [['m', true], [' \u2212 ', false], ['M', true], [' = 20.16', false]], 175, 73, 22, 'left');
    const rows = [['#FFA500', 'log g > 4.5', 102], ['#FF0000', 'log g < 4.5, RGB', 130], ['#0000FF', 'log g < 4.5, BHB', 158]];
    rows.forEach(r => {
      ctx.beginPath(); ctx.arc(136, r[2], 6.5, 0, Math.PI * 2);
      ctx.fillStyle = r[0]; ctx.fill();
      ctx.strokeStyle = '#000'; ctx.lineWidth = 1.5; ctx.stroke();
      ctx.fillStyle = '#000';
      richText(ctx, [[r[1], false]], 175, r[2] + 1, 22, 'left');
    });

    // axis titles
    richText(ctx, [['(', false], ['g', true], [' \u2212 ', false], ['r', true], [')(mag)', false]], (a.left + a.right) / 2, 808, 35, 'center');
    ctx.translate(36, (a.top + a.bottom) / 2);
    ctx.rotate(-Math.PI / 2);
    richText(ctx, [['r', true], [' (mag)', false]], 0, 0, 35, 'center');
    ctx.restore();
  }
};

new Chart(document.getElementById('cmd').getContext('2d'), {
  type: 'scatter',
  data: {
    datasets: [
      markerSet(orangeGR, orangeR, '#FFA500'),
      markerSet(redGR, redR, '#FF0000'),
      markerSet(blueGR, blueR, '#0000FF'),
      lineSet(isoBHB, '#0000FF', [], 1.8, 1, 0.3),
      lineSet(bhbUpper, '#0000FF', [7, 5], 1.8, 1, 0.3),
      lineSet(bhbLower, '#0000FF', [7, 5], 1.8, 1, 0.2),
      lineSet(isoRGB, '#FF0000', [], 1.8, 2, 0.3),
      lineSet(isoAGB, '#FF0000', [], 1.8, 2, 0.3),
      lineSet(isoUpper, '#FF0000', [7, 5], 1.8, 3, 0.2),
      lineSet(isoLower, '#FF0000', [7, 5], 1.8, 3, 0.2),
      lineSet(cutLine, '#000000', [11, 7], 1.5, 4, 0),
      { data: toXY(allField), backgroundColor: '#000', borderWidth: 0, pointRadius: 3.0, pointHoverRadius: 3.0, order: 10 }
    ]
  },
  options: {
    responsive: false,
    animation: false,
    events: [],
    layout: { padding: { left: 0, right: 43, top: 44, bottom: 0 } },
    scales: {
      x: {
        type: 'linear', min: -1, max: 2,
        grid: { display: false, drawTicks: false }, border: { display: false },
        ticks: {
          stepSize: 0.5, autoSkip: false, maxRotation: 0, padding: 8, color: '#000',
          font: { family: SERIF, size: 25 },
          callback: v => (v < 0 ? '\u2212' : '') + Math.abs(v).toFixed(1)
        },
        afterBuildTicks: s => { s.ticks = xMajor.map(v => ({ value: v })); },
        afterFit: s => { s.height = 86; }
      },
      y: {
        type: 'linear', min: 16, max: 26, reverse: true,
        grid: { display: false, drawTicks: false }, border: { display: false },
        ticks: {
          stepSize: 2, autoSkip: false, padding: 19, color: '#000',
          font: { family: SERIF, size: 25 },
          callback: v => String(v)
        },
        afterBuildTicks: s => { s.ticks = yMajor.map(v => ({ value: v })); },
        afterFit: s => { s.width = 110; }
      }
    },
    plugins: { legend: { display: false }, tooltip: { enabled: false } }
  },
  plugins: [decor]
});
</script>
</body>
</html>
